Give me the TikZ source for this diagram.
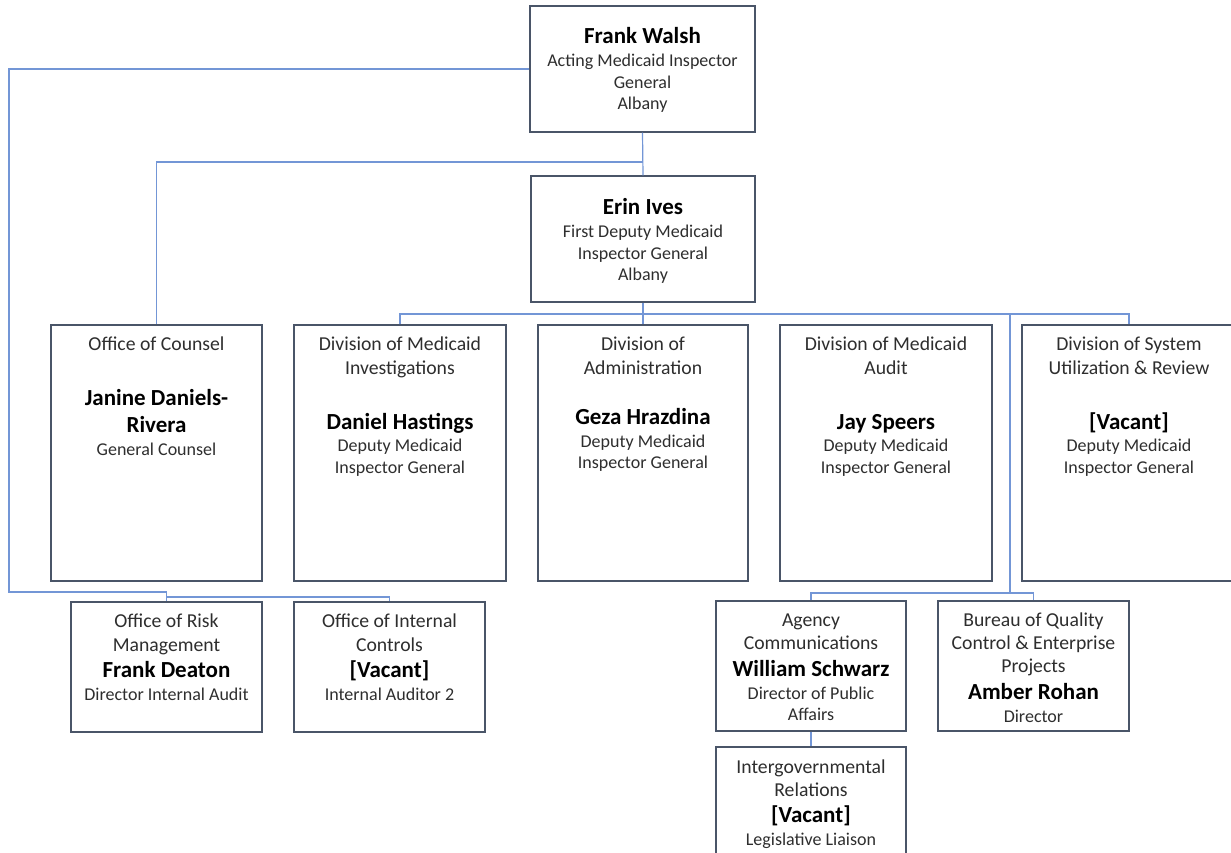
\documentclass[tikz,border=0pt]{standalone}
\usepackage{fontspec}
\setmainfont{Carlito}
\definecolor{boxc}{HTML}{4A5568}
\definecolor{connc}{HTML}{7396D6}
\definecolor{textc}{HTML}{2E2E2E}
\newcommand\rg{\fontsize{18pt}{22pt}\selectfont\mdseries\color{textc}}
\newcommand\og{\fontsize{19.7pt}{24pt}\selectfont\mdseries\color{textc}}
\newcommand\nm{\fontsize{23pt}{27pt}\selectfont\bfseries\color{black}}
\newcommand\R[2]{\rule{0pt}{#1pt}\smash{#2}\cr}
\newcommand\tb[1]{\vbox{\offinterlineskip\halign{\hfil##\hfil\cr#1}}}
\tikzset{
  box/.style={draw=boxc, line width=1.3pt, fill=white, inner sep=0pt, rectangle},
  conn/.style={draw=connc, line width=1.2pt},
  txt/.style={anchor=north, inner sep=0pt, font=\rg}
}
\begin{document}
\begin{tikzpicture}[x=1pt,y=-1pt]
\useasboundingbox (0,0) rectangle (1231,852);
% connector junctions
\coordinate (lt) at (9,592);
\coordinate (rk) at (166.5,597);
\coordinate (wj) at (642.5,162);
\coordinate (hb) at (643,314);
\coordinate (sv) at (1010,314);
\coordinate (sb) at (1010,593);
% boxes
\node[box, minimum width=225pt, minimum height=126pt] (walsh) at (642.5,69) {};
\node[box, minimum width=224pt, minimum height=126pt] (ives) at (643,239) {};
\node[box, minimum width=211pt, minimum height=256pt] (counsel) at (156.5,453) {};
\node[box, minimum width=212pt, minimum height=256pt] (invest) at (400,453) {};
\node[box, minimum width=210pt, minimum height=256pt] (admin) at (643,453) {};
\node[box, minimum width=212pt, minimum height=256pt] (audit) at (886,453) {};
\node[box, minimum width=214pt, minimum height=256pt] (system) at (1129,453) {};
\node[box, minimum width=191pt, minimum height=130pt] (risk) at (166.5,667) {};
\node[box, minimum width=191pt, minimum height=130pt] (internal) at (389.5,667) {};
\node[box, minimum width=190pt, minimum height=130pt] (agency) at (811,666) {};
\node[box, minimum width=191pt, minimum height=130pt] (bureau) at (1033.5,666) {};
\node[box, minimum width=190pt, minimum height=123pt] (intergov) at (811,808.5) {};
% connector lines
\draw[conn] (walsh.west) -| (lt) -| (risk.north);
\draw[conn] (rk) -| (internal.north);
\draw[conn] (walsh.south) -- (ives.north);
\draw[conn] (wj) -| (counsel.north);
\draw[conn] (ives.south) -- (admin.north);
\draw[conn] (invest.north) |- (hb) -| (system.north);
\draw[conn] (sv) -- (sb);
\draw[conn] (agency.north) |- (sb) -| (bureau.north);
\draw[conn] (agency.south) -- (intergov.north);
% texts (node position = first baseline)
\node[txt] (twalsh) at (642.5,43.5) {\tb{\R{0}{\nm Frank Walsh}\R{23}{Acting Medicaid Inspector}\R{22}{General}\R{21}{Albany}}};
\node[txt] (tives) at (643,214.5) {\tb{\R{0}{\nm Erin Ives}\R{23}{First Deputy Medicaid}\R{22}{Inspector General}\R{21}{Albany}}};
\node[txt] (tcounsel) at (156.5,350) {\tb{\R{0}{\og Office of Counsel}\R{55.5}{\nm Janine Daniels-}\R{27}{\nm Rivera}\R{23}{General Counsel}}};
\node[txt] (tinvest) at (400,350) {\tb{\R{0}{\og Division of Medicaid}\R{24}{\og Investigations}\R{55.5}{\nm Daniel Hastings}\R{22}{Deputy Medicaid}\R{22}{Inspector General}}};
\node[txt] (tadmin) at (643,350) {\tb{\R{0}{\og Division of}\R{24}{\og Administration}\R{50.5}{\nm Geza Hrazdina}\R{23}{Deputy Medicaid}\R{21}{Inspector General}}};
\node[txt] (taudit) at (886,350) {\tb{\R{0}{\og Division of Medicaid}\R{24}{\og Audit}\R{55.5}{\nm Jay Speers}\R{22}{Deputy Medicaid}\R{22}{Inspector General}}};
\node[txt] (tsystem) at (1129,350) {\tb{\R{0}{\og Division of System}\R{24}{\og Utilization \& Review}\R{55.5}{\nm [Vacant]}\R{22}{Deputy Medicaid}\R{22}{Inspector General}}};
\node[txt] (trisk) at (166.5,627) {\tb{\R{0}{\og Office of Risk}\R{24}{\og Management}\R{26.5}{\nm Frank Deaton}\R{23}{Director Internal Audit}}};
\node[txt] (tinternal) at (389.5,627) {\tb{\R{0}{\og Office of Internal}\R{24}{\og Controls}\R{26.5}{\nm [Vacant]}\R{23}{Internal Auditor 2}}};
\node[txt] (tagency) at (811,626) {\tb{\R{0}{\og Agency}\R{23}{\og Communications}\R{27.5}{\nm William Schwarz}\R{23}{Director of Public}\R{21}{Affairs}}};
\node[txt] (tbureau) at (1033.5,626) {\tb{\R{0}{\og Bureau of Quality}\R{23}{\og Control \& Enterprise}\R{23}{\og Projects}\R{27.5}{\nm Amber Rohan}\R{23}{Director}}};
\node[txt] (tintergov) at (811,773) {\tb{\R{0}{\og Intergovernmental}\R{23}{\og Relations}\R{26.5}{\nm [Vacant]}\R{23}{Legislative Liaison}}};
\end{tikzpicture}
\end{document}
